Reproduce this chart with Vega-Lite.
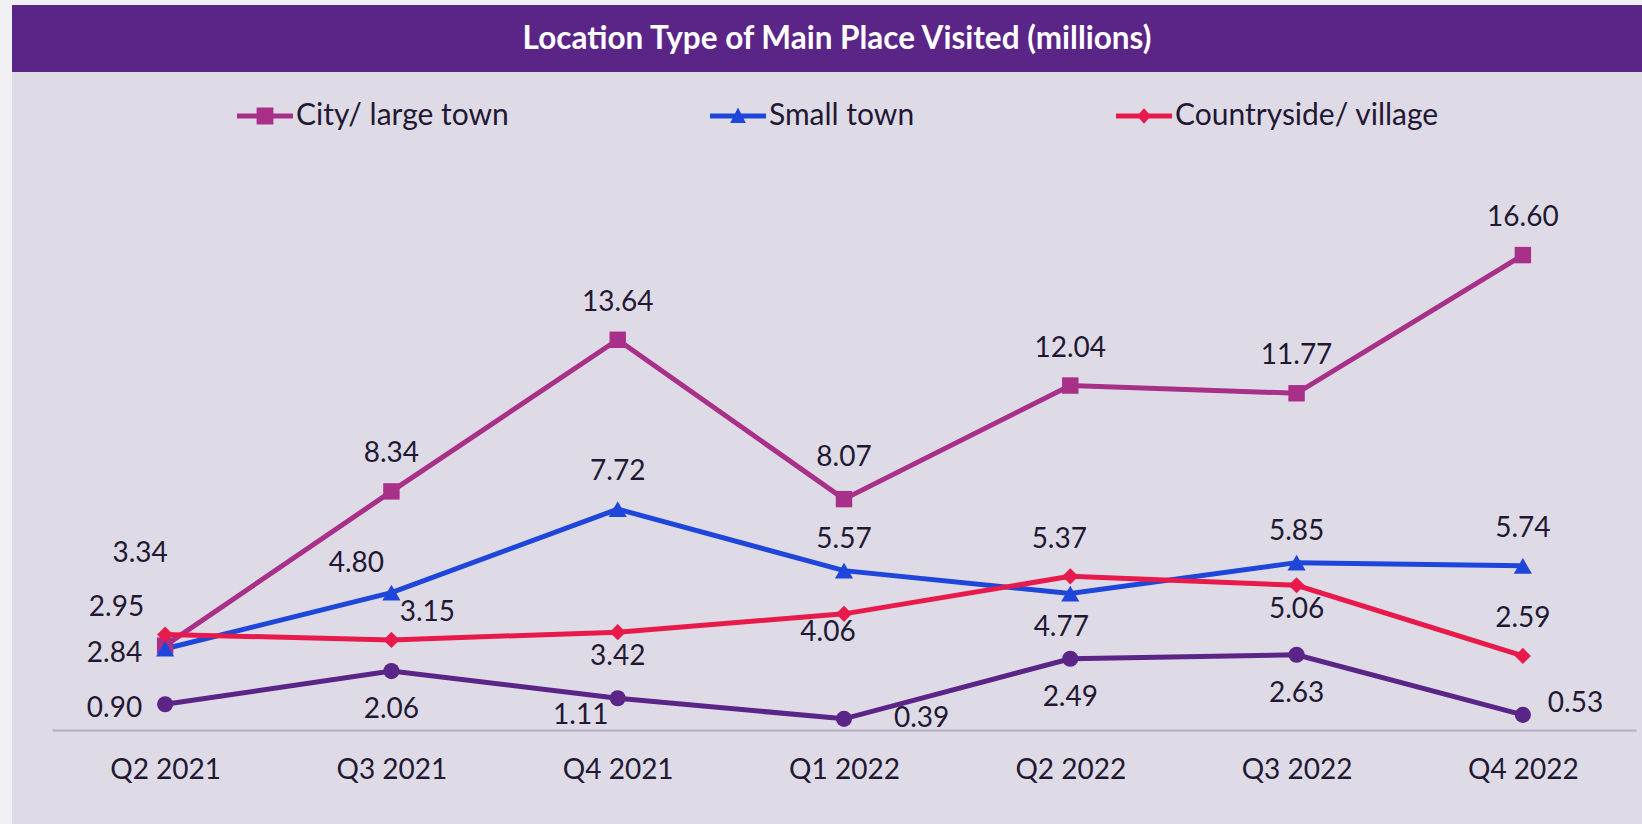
{
  "$schema": "https://vega.github.io/schema/vega-lite/v6.json",
  "background": "#DFDBE6",
  "padding": 0,
  "config": {"view": {"stroke": null}, "font": "Lato"},
  "hconcat": [
    {
      "width": 12, "height": 824,
      "view": {"fill": "#F0EFF4", "stroke": null},
      "data": {"values": [{}]},
      "mark": {"type": "text", "text": "", "fontSize": 0}
    },
    {
      "spacing": 0,
      "vconcat": [
        {
          "width": 1630, "height": 5,
          "view": {"fill": "#F0EFF4", "stroke": null},
          "data": {"values": [{}]},
          "mark": {"type": "text", "text": "", "fontSize": 0}
        },
        {
          "width": 1630, "height": 67,
          "view": {"fill": "#5A2587", "stroke": null},
          "data": {"values": [{"title": "Location Type of Main Place Visited (millions)"}]},
          "mark": {"type": "text", "font": "Lato", "fontWeight": "bold", "fontSize": 31.5, "color": "#FFFFFF", "baseline": "middle", "align": "center", "dx": 10, "dy": 1},
          "encoding": {"text": {"field": "title", "type": "nominal"}}
        },
        {
          "spacing": 0,
          "hconcat": [
            {
              "width": 40, "height": 752,
              "data": {"values": [{}]},
              "mark": {"type": "text", "text": "", "fontSize": 0}
            },
            {
              "width": 1584, "height": 658,
              "data": {"values": [
                {"quarter": "Q2 2021", "series": "Other", "value": 0.90},
                {"quarter": "Q3 2021", "series": "Other", "value": 2.06},
                {"quarter": "Q4 2021", "series": "Other", "value": 1.11},
                {"quarter": "Q1 2022", "series": "Other", "value": 0.39},
                {"quarter": "Q2 2022", "series": "Other", "value": 2.49},
                {"quarter": "Q3 2022", "series": "Other", "value": 2.63},
                {"quarter": "Q4 2022", "series": "Other", "value": 0.53},
                {"quarter": "Q2 2021", "series": "City/ large town", "value": 2.95},
                {"quarter": "Q3 2021", "series": "City/ large town", "value": 8.34},
                {"quarter": "Q4 2021", "series": "City/ large town", "value": 13.64},
                {"quarter": "Q1 2022", "series": "City/ large town", "value": 8.07},
                {"quarter": "Q2 2022", "series": "City/ large town", "value": 12.04},
                {"quarter": "Q3 2022", "series": "City/ large town", "value": 11.77},
                {"quarter": "Q4 2022", "series": "City/ large town", "value": 16.60},
                {"quarter": "Q2 2021", "series": "Small town", "value": 2.84},
                {"quarter": "Q3 2021", "series": "Small town", "value": 4.80},
                {"quarter": "Q4 2021", "series": "Small town", "value": 7.72},
                {"quarter": "Q1 2022", "series": "Small town", "value": 5.57},
                {"quarter": "Q2 2022", "series": "Small town", "value": 4.77},
                {"quarter": "Q3 2022", "series": "Small town", "value": 5.85},
                {"quarter": "Q4 2022", "series": "Small town", "value": 5.74},
                {"quarter": "Q2 2021", "series": "Countryside/ village", "value": 3.34},
                {"quarter": "Q3 2021", "series": "Countryside/ village", "value": 3.15},
                {"quarter": "Q4 2021", "series": "Countryside/ village", "value": 3.42},
                {"quarter": "Q1 2022", "series": "Countryside/ village", "value": 4.06},
                {"quarter": "Q2 2022", "series": "Countryside/ village", "value": 5.37},
                {"quarter": "Q3 2022", "series": "Countryside/ village", "value": 5.06},
                {"quarter": "Q4 2022", "series": "Countryside/ village", "value": 2.59}
              ]},
              "encoding": {
                "x": {
                  "field": "quarter", "type": "ordinal",
                  "sort": ["Q2 2021", "Q3 2021", "Q4 2021", "Q1 2022", "Q2 2022", "Q3 2022", "Q4 2022"],
                  "scale": {"type": "point", "padding": 0.5},
                  "axis": {"title": null, "labelAngle": 0, "ticks": false, "domainColor": "#B4ADC4", "domainWidth": 2, "labelFont": "Lato", "labelFontSize": 28, "labelColor": "#221833", "labelPadding": 26, "grid": false}
                },
                "y": {
                  "field": "value", "type": "quantitative",
                  "scale": {"domain": [0, 23], "nice": false, "zero": true},
                  "axis": null
                },
                "color": {
                  "field": "series", "type": "nominal",
                  "scale": {
                    "domain": ["City/ large town", "Small town", "Countryside/ village", "Other"],
                    "range": ["#A93089", "#1E46DA", "#E81A4B", "#5A2587"]
                  },
                  "legend": {
                    "title": null,
                    "values": ["City/ large town", "Small town", "Countryside/ village"],
                    "orient": "none",
                    "direction": "horizontal",
                    "legendX": 237,
                    "legendY": 88,
                    "symbolSize": 3136,
                    "symbolStrokeWidth": 0,
                    "symbolOpacity": 1,
                    "labelFont": "Lato",
                    "labelFontSize": 30,
                    "labelColor": "#221833",
                    "labelLimit": 500,
                    "labelOffset": 3,
                    "columnPadding": 201,
                    "padding": 0
                  }
                }
              },
              "layer": [
                {
                  "mark": {"type": "line", "strokeWidth": 5}
                },
                {
                  "mark": {"type": "point", "filled": true, "opacity": 0},
                  "encoding": {
                    "shape": {
                      "field": "series", "type": "nominal",
                      "scale": {
                        "domain": ["City/ large town", "Small town", "Countryside/ village", "Other"],
                        "range": [
                          "M-1,-0.09H1V0.09H-1ZM-0.3,-0.3H0.3V0.3H-0.3Z",
                          "M-1,-0.09H1V0.09H-1ZM-0.28,0.25L0,-0.3L0.28,0.25Z",
                          "M-1,-0.09H1V0.09H-1ZM0,-0.28L0.25,0L0,0.28L-0.25,0Z",
                          "circle"
                        ]
                      },
                      "legend": {
                        "title": null,
                        "values": ["City/ large town", "Small town", "Countryside/ village"],
                        "orient": "none",
                        "direction": "horizontal",
                        "legendX": 237,
                        "legendY": 88,
                        "symbolSize": 3136,
                        "symbolStrokeWidth": 0,
                        "symbolOpacity": 1,
                        "labelFont": "Lato",
                        "labelFontSize": 30,
                        "labelColor": "#221833",
                        "labelLimit": 500,
                        "labelOffset": 3,
                        "columnPadding": 201,
                        "padding": 0
                      }
                    }
                  }
                },
                {
                  "transform": [{"filter": "datum.series === 'City/ large town'"}],
                  "mark": {"type": "point", "filled": true, "opacity": 1, "shape": "square", "size": 270}
                },
                {
                  "transform": [{"filter": "datum.series === 'Small town'"}],
                  "mark": {"type": "point", "filled": true, "opacity": 1, "shape": "triangle-up", "size": 330}
                },
                {
                  "transform": [{"filter": "datum.series === 'Countryside/ village'"}],
                  "mark": {"type": "point", "filled": true, "opacity": 1, "shape": "diamond", "size": 260}
                },
                {
                  "transform": [{"filter": "datum.series === 'Other'"}],
                  "mark": {"type": "point", "filled": true, "opacity": 1, "shape": "circle", "size": 260}
                },
                {
                  "transform": [{"filter": "(datum.series === 'City/ large town' && datum.quarter !== 'Q2 2021' && datum.quarter !== 'Q1 2022') || (datum.series === 'Small town' && (datum.quarter === 'Q4 2021' || datum.quarter === 'Q4 2022')) || (datum.series === 'Countryside/ village' && datum.quarter === 'Q4 2022')"}],
                  "mark": {"type": "text", "fontSize": 28, "font": "Lato", "baseline": "middle", "dy": -37},
                  "encoding": {"text": {"field": "value", "type": "quantitative", "format": ".2f"}, "color": {"value": "#221833"}}
                },
                {
                  "transform": [{"filter": "datum.series === 'City/ large town' && datum.quarter === 'Q1 2022'"}],
                  "mark": {"type": "text", "fontSize": 28, "font": "Lato", "baseline": "middle", "dy": -41},
                  "encoding": {"text": {"field": "value", "type": "quantitative", "format": ".2f"}, "color": {"value": "#221833"}}
                },
                {
                  "transform": [{"filter": "datum.series === 'Countryside/ village' && datum.quarter === 'Q2 2022'"}],
                  "mark": {"type": "text", "fontSize": 28, "font": "Lato", "baseline": "middle", "dx": -11, "dy": -36},
                  "encoding": {"text": {"field": "value", "type": "quantitative", "format": ".2f"}, "color": {"value": "#221833"}}
                },
                {
                  "transform": [{"filter": "datum.series === 'Small town' && (datum.quarter === 'Q1 2022' || datum.quarter === 'Q3 2022')"}],
                  "mark": {"type": "text", "fontSize": 28, "font": "Lato", "baseline": "middle", "dy": -31},
                  "encoding": {"text": {"field": "value", "type": "quantitative", "format": ".2f"}, "color": {"value": "#221833"}}
                },
                {
                  "transform": [{"filter": "datum.series === 'Small town' && datum.quarter === 'Q3 2021'"}],
                  "mark": {"type": "text", "fontSize": 28, "font": "Lato", "baseline": "middle", "dx": -35, "dy": -29},
                  "encoding": {"text": {"field": "value", "type": "quantitative", "format": ".2f"}, "color": {"value": "#221833"}}
                },
                {
                  "transform": [{"filter": "datum.series === 'Countryside/ village' && (datum.quarter === 'Q4 2021' || datum.quarter === 'Q3 2022')"}],
                  "mark": {"type": "text", "fontSize": 28, "font": "Lato", "baseline": "middle", "dy": 25},
                  "encoding": {"text": {"field": "value", "type": "quantitative", "format": ".2f"}, "color": {"value": "#221833"}}
                },
                {
                  "transform": [{"filter": "datum.series === 'Countryside/ village' && datum.quarter === 'Q1 2022'"}],
                  "mark": {"type": "text", "fontSize": 28, "font": "Lato", "baseline": "middle", "dx": -16, "dy": 19},
                  "encoding": {"text": {"field": "value", "type": "quantitative", "format": ".2f"}, "color": {"value": "#221833"}}
                },
                {
                  "transform": [{"filter": "datum.series === 'Other' && (datum.quarter === 'Q3 2021' || datum.quarter === 'Q2 2022' || datum.quarter === 'Q3 2022')"}],
                  "mark": {"type": "text", "fontSize": 28, "font": "Lato", "baseline": "middle", "dy": 39},
                  "encoding": {"text": {"field": "value", "type": "quantitative", "format": ".2f"}, "color": {"value": "#221833"}}
                },
                {
                  "transform": [{"filter": "datum.series === 'Small town' && datum.quarter === 'Q2 2022'"}],
                  "mark": {"type": "text", "fontSize": 28, "font": "Lato", "baseline": "middle", "dx": -9, "dy": 34},
                  "encoding": {"text": {"field": "value", "type": "quantitative", "format": ".2f"}, "color": {"value": "#221833"}}
                },
                {
                  "transform": [{"filter": "datum.series === 'City/ large town' && datum.quarter === 'Q2 2021'"}],
                  "mark": {"type": "text", "fontSize": 28, "font": "Lato", "baseline": "middle", "align": "right", "dx": -21, "dy": -38},
                  "encoding": {"text": {"field": "value", "type": "quantitative", "format": ".2f"}, "color": {"value": "#221833"}}
                },
                {
                  "transform": [{"filter": "(datum.series === 'Small town' || datum.series === 'Other') && datum.quarter === 'Q2 2021'"}],
                  "mark": {"type": "text", "fontSize": 28, "font": "Lato", "baseline": "middle", "align": "right", "dx": -23, "dy": 5},
                  "encoding": {"text": {"field": "value", "type": "quantitative", "format": ".2f"}, "color": {"value": "#221833"}}
                },
                {
                  "transform": [{"filter": "datum.series === 'Countryside/ village' && datum.quarter === 'Q2 2021'"}],
                  "mark": {"type": "text", "fontSize": 28, "font": "Lato", "baseline": "middle", "dx": -25, "dy": -80},
                  "encoding": {"text": {"field": "value", "type": "quantitative", "format": ".2f"}, "color": {"value": "#221833"}}
                },
                {
                  "transform": [{"filter": "datum.series === 'Countryside/ village' && datum.quarter === 'Q3 2021'"}],
                  "mark": {"type": "text", "fontSize": 28, "font": "Lato", "baseline": "middle", "dx": 36, "dy": -27},
                  "encoding": {"text": {"field": "value", "type": "quantitative", "format": ".2f"}, "color": {"value": "#221833"}}
                },
                {
                  "transform": [{"filter": "datum.series === 'Other' && datum.quarter === 'Q4 2021'"}],
                  "mark": {"type": "text", "fontSize": 28, "font": "Lato", "baseline": "middle", "dx": -37, "dy": 18},
                  "encoding": {"text": {"field": "value", "type": "quantitative", "format": ".2f"}, "color": {"value": "#221833"}}
                },
                {
                  "transform": [{"filter": "datum.series === 'Other' && datum.quarter === 'Q1 2022'"}],
                  "mark": {"type": "text", "fontSize": 28, "font": "Lato", "baseline": "middle", "align": "left", "dx": 50, "dy": 0},
                  "encoding": {"text": {"field": "value", "type": "quantitative", "format": ".2f"}, "color": {"value": "#221833"}}
                },
                {
                  "transform": [{"filter": "datum.series === 'Other' && datum.quarter === 'Q4 2022'"}],
                  "mark": {"type": "text", "fontSize": 28, "font": "Lato", "baseline": "middle", "align": "left", "dx": 25, "dy": -11},
                  "encoding": {"text": {"field": "value", "type": "quantitative", "format": ".2f"}, "color": {"value": "#221833"}}
                }
              ]
            }
          ]
        }
      ]
    }
  ],
  "spacing": 0
}
